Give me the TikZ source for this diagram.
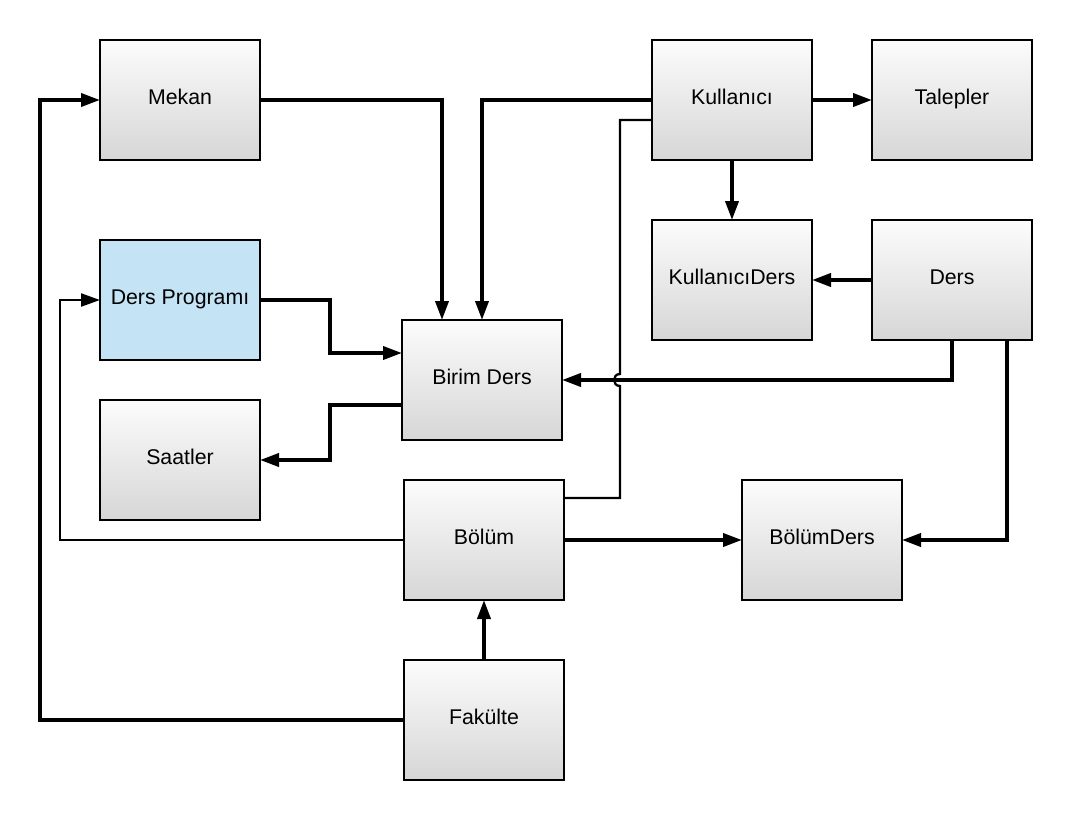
\documentclass[tikz,border=0pt]{standalone}
\usepackage{fontspec}
\setmainfont{Liberation Sans}
\usetikzlibrary{arrows.meta,calc}
\definecolor{boxtop}{HTML}{FCFCFC}
\definecolor{boxbot}{HTML}{D6D6D6}
\definecolor{dpblue}{HTML}{C4E4F6}
\begin{document}
\begin{tikzpicture}[x=1pt,y=-1pt,
  box/.style={draw=black, line width=1.8pt, minimum width=160pt, minimum height=120pt,
    top color=boxtop, bottom color=boxbot, inner sep=0pt, outer sep=0pt,
    text height=15pt, text depth=6pt,
    font=\fontsize{21.3}{24}\selectfont},
  bluebox/.style={box, top color=dpblue, bottom color=dpblue, fill=dpblue},
  thickedge/.style={line width=3.7pt},
  thinedge/.style={line width=2.3pt},
  arr/.style={-{Triangle[length=19pt,width=13pt]}},
]
\useasboundingbox (0,0) rectangle (1072,820);
\node[box] (mekan) at (180,100) {Mekan};
\node[box] (kull) at (732,100) {Kullanıcı};
\node[box] (talep) at (952,100) {Talepler};
\node[box] (kd) at (732,280) {KullanıcıDers};
\node[box] (ders) at (952,280) {Ders};
\node[bluebox] (dp) at (180,300) {Ders Programı};
\node[box] (birim) at (482,380) {Birim Ders};
\node[box] (saat) at (180,460) {Saatler};
\node[box] (bolum) at (484,540) {Bölüm};
\node[box] (bders) at (822,540) {BölümDers};
\node[box] (fak) at (484,720) {Fakülte};
\coordinate (hop) at (620,380);

\draw[thickedge,arr] (mekan.east) -| ([xshift=-40pt]birim.north);
\draw[thickedge,arr] (kull.west) -| (birim.north);
\draw[thickedge,arr] (kull) -- (talep);
\draw[thickedge,arr] (kull) -- (kd);
\draw[thickedge,arr] (ders) -- (kd);
\draw[thickedge,arr] (ders.south) |- (birim.east);
\draw[thickedge,arr] ([xshift=55pt]ders.south) |- (bders.east);
\draw[thickedge,arr] (dp.east) -- ++(70,0) |- ([yshift=27pt]birim.west);
\draw[thickedge,arr] ([yshift=-25pt]birim.west) -- ++(-72,0) |- (saat.east);
\draw[thickedge,arr] (bolum) -- (bders);
\draw[thinedge,arr] (bolum.west) -- ++(-344,0) |- (dp.west);
\draw[thinedge] ([yshift=42pt]bolum.east) -| ([yshift=-6pt]hop)
  .. controls +(-8,0) and +(-8,0) .. ([yshift=6pt]hop) |- ([yshift=-20pt]kull.west);
\draw[thickedge,arr] (fak) -- (bolum);
\draw[thickedge,arr] (fak.west) -- ++(-364,0) |- (mekan.west);
\end{tikzpicture}
\end{document}
